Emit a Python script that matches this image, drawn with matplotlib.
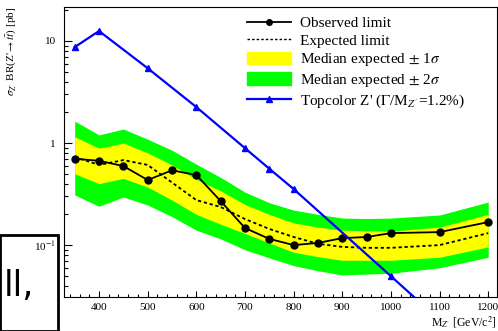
import matplotlib
matplotlib.use("Agg")
import matplotlib.pyplot as plt
from matplotlib.patches import Patch, Rectangle
from matplotlib.lines import Line2D
from matplotlib.ticker import FixedLocator, MultipleLocator, FixedFormatter, NullFormatter

plt.rcParams['font.family'] = ['Liberation Serif', 'DejaVu Serif']
plt.rcParams['mathtext.fontset'] = 'stix'

# Z' mass points [GeV/c^2]
mass = [350, 400, 450, 500, 550, 600, 650, 700, 750, 800, 850, 900, 950, 1000, 1100, 1200]
observed = [0.70, 0.67, 0.595, 0.434, 0.54, 0.486, 0.27, 0.147, 0.115, 0.10, 0.105, 0.117, 0.12, 0.131, 0.134, 0.168]
expected = [0.73, 0.61, 0.68, 0.61, 0.41, 0.276, 0.236, 0.18, 0.144, 0.12, 0.103, 0.096, 0.094, 0.094, 0.10, 0.131]
sig1_up = [1.15, 0.89, 1.0, 0.80, 0.61, 0.44, 0.34, 0.25, 0.20, 0.165, 0.15, 0.14, 0.138, 0.137, 0.15, 0.20]
sig1_dn = [0.50, 0.40, 0.45, 0.37, 0.276, 0.20, 0.16, 0.13, 0.105, 0.085, 0.077, 0.071, 0.071, 0.071, 0.076, 0.096]
sig2_up = [1.64, 1.2, 1.37, 1.09, 0.85, 0.62, 0.46, 0.33, 0.26, 0.22, 0.20, 0.184, 0.182, 0.184, 0.197, 0.264]
sig2_dn = [0.31, 0.24, 0.296, 0.247, 0.19, 0.14, 0.115, 0.09, 0.075, 0.063, 0.056, 0.051, 0.052, 0.053, 0.06, 0.076]

# topcolor Z' prediction
tc_mass = [350, 400, 500, 600, 700, 750, 800, 1000, 1100]
tc_xsec = [8.7, 12.5, 5.4, 2.25, 0.89, 0.56, 0.354, 0.0496, 0.0184]

W, H = 498, 331
fig = plt.figure(figsize=(W / 100, H / 100), dpi=100)
ax = fig.add_axes([64 / W, 1 - 297 / H, (497 - 64) / W, (297 - 7) / H])

ax.fill_between(mass, sig2_dn, sig2_up, color='#00ff00', lw=0)
ax.fill_between(mass, sig1_dn, sig1_up, color='#ffff00', lw=0)
ax.plot(mass, expected, color='black', ls=(0, (1.8, 1.5)), lw=1.3)
ax.plot(mass, observed, color='black', lw=1.3, marker='o', ms=5)
ax.plot(tc_mass, tc_xsec, color='#0000ff', lw=1.6, marker='^', ms=4)

ax.set_yscale('log')
ax.set_xlim(328, 1218)
ax.set_ylim(0.031, 21.5)

ax.xaxis.set_major_locator(MultipleLocator(100))
ax.xaxis.set_minor_locator(MultipleLocator(20))
ax.yaxis.set_major_locator(FixedLocator([0.1, 1, 10]))
ax.yaxis.set_major_formatter(FixedFormatter(['10$^{-1}$', '1', '10']))
ax.yaxis.set_minor_formatter(NullFormatter())
ax.tick_params(axis='both', which='both', direction='in', labelsize=8)
ax.tick_params(axis='y', which='major', length=6, width=0.8, pad=6)
ax.tick_params(axis='y', which='minor', length=3, width=0.8)
ax.tick_params(axis='x', which='major', length=4.5, width=0.8, pad=4)
ax.tick_params(axis='x', which='minor', length=2.2, width=0.8)
for s in ax.spines.values():
    s.set_linewidth(0.8)

ax.set_ylabel(r"$\sigma_{Z'}$ BR(Z'$\rightarrow t\bar{t}$) [pb]", fontsize=8, loc='top')
ax.yaxis.set_label_coords(-0.105, 1.0)
ax.set_xlabel(r"M$_{Z^{\prime}}$ [GeV/c$^{2}$]", fontsize=8.5, loc='right')
ax.xaxis.set_label_coords(1.0, -0.06)

handles = [
    Line2D([], [], color='black', lw=1.3, marker='o', ms=4),
    Line2D([], [], color='black', ls=(0, (1.8, 1.5)), lw=1.0),
    Patch(color='#ffff00'),
    Patch(color='#00ff00'),
    Line2D([], [], color='#0000ff', lw=1.6, marker='^', ms=4),
]
labels = [
    'Observed limit',
    'Expected limit',
    r'Median expected $\pm$ 1$\sigma$',
    r'Median expected $\pm$ 2$\sigma$',
    r"Topcolor Z' ($\Gamma$/M$_{Z^{\prime}}$=1.2%)",
]
leg = ax.legend(handles, labels, loc='upper left', bbox_to_anchor=(247 / W, 1 - 16 / H),
                bbox_transform=fig.transFigure, frameon=False, fontsize=11,
                borderpad=0, borderaxespad=0, handlelength=2.9, handleheight=0.85,
                handletextpad=0.6, labelspacing=0.22)

# scanned overlay in the lower-left corner
fig.patches.append(Rectangle((0, 0), 58 / W, (H - 235) / H, transform=fig.transFigure,
                             fill=False, edgecolor='black', lw=2))
fig.text(4 / W, 1 - 296 / H, 'll,', fontsize=25, family='DejaVu Sans', color='black')

fig.savefig('out.png', dpi=100)
